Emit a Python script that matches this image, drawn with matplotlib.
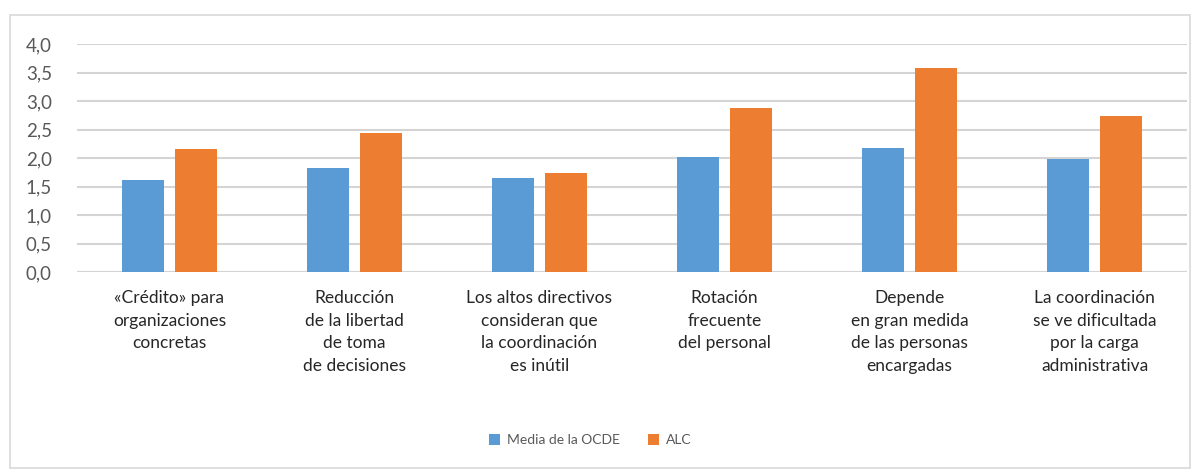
import numpy as np
import matplotlib
matplotlib.use("Agg")
from matplotlib import pyplot as plt
from matplotlib.patches import Rectangle

categories = [
    "«Crédito» para\norganizaciones\nconcretas",
    "Reducción\nde la libertad\nde toma\nde decisiones",
    "Los altos directivos\nconsideran que\nla coordinación\nes inútil",
    "Rotación\nfrecuente\ndel personal",
    "Depende\nen gran medida\nde las personas\nencargadas",
    "La coordinación\nse ve dificultada\npor la carga\nadministrativa",
]
ocde = [1.61, 1.82, 1.65, 2.02, 2.18, 1.98]
alc = [2.16, 2.44, 1.73, 2.87, 3.58, 2.74]
series_names = ["Media de la OCDE", "ALC"]
yticks = [0.0, 0.5, 1.0, 1.5, 2.0, 2.5, 3.0, 3.5, 4.0]

plt.rcParams['font.family'] = ['Lato', 'DejaVu Sans']

fig = plt.figure(figsize=(12.01, 4.71), dpi=100)
fig.patch.set_facecolor('white')

# outer chart border
fig.patches.append(Rectangle((10 / 1201, 3 / 471), 1180 / 1201, 453 / 471,
                             transform=fig.transFigure, fill=False,
                             edgecolor='#d9d9d9', linewidth=1.2))

ax = fig.add_axes([77 / 1201, (471 - 272) / 471, 1110 / 1201, 228 / 471])

x = np.arange(len(categories))
w = 0.227
off = 0.143
ax.bar(x - off, ocde, w, color='#5B9BD5', label=series_names[0], zorder=3)
ax.bar(x + off, alc, w, color='#ED7D31', label=series_names[1], zorder=3)

ax.set_xlim(-0.5, len(categories) - 0.5)
ax.set_ylim(0, 4.0)
ax.set_yticks(yticks)
ax.set_yticklabels([f"{v:.1f}".replace('.', ',') for v in yticks],
                   fontsize=13.5, color='#595959')
ax.set_xticks(x)
ax.set_xticklabels(categories, fontsize=12.5, color='#262626', linespacing=1.5)
ax.tick_params(axis='y', length=0, pad=18)
ax.tick_params(axis='x', length=0, pad=13)
ax.yaxis.grid(True, color='#d4d4d4', linewidth=1.5, zorder=0)
for s in ax.spines.values():
    s.set_visible(False)
ax.axhline(0, color='#d4d4d4', linewidth=1.5, zorder=2)

fig.legend(loc='center', bbox_to_anchor=(590 / 1201, (471 - 440) / 471),
           ncol=2, frameon=False, fontsize=10, labelcolor='#595959',
           handlelength=0.8, handleheight=0.8, columnspacing=2.0,
           handletextpad=0.5)

fig.savefig("out.png", dpi=100, facecolor='white')
